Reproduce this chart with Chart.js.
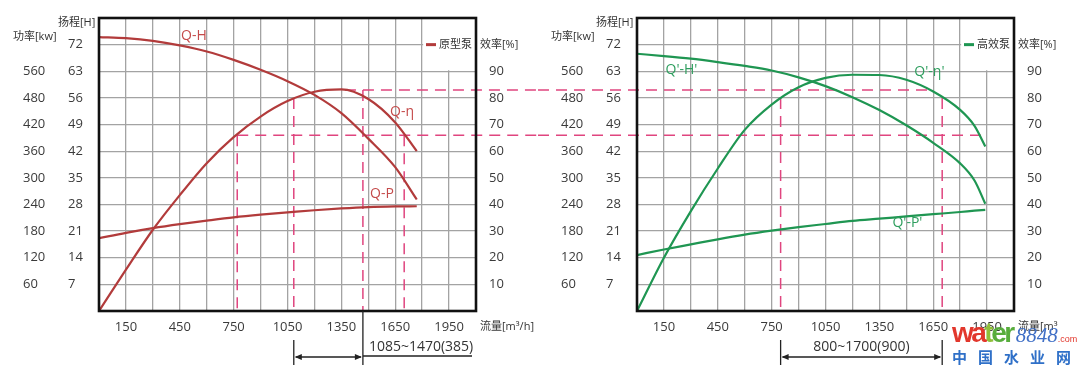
<!DOCTYPE html>
<html lang="zh">
<head>
<meta charset="utf-8">
<title>原型泵 / 高效泵 性能曲线</title>
<script src="https://cdn.jsdelivr.net/npm/chart.js@4.4.1/dist/chart.umd.min.js"></script>
<style>
  html, body { margin: 0; padding: 0; background: #fff; }
  body { width: 1080px; height: 373px; position: relative; overflow: hidden; }
  canvas { position: absolute; top: 0; }
  #protoChart { left: 0; }
  #hiChart { left: 538px; }
  #mark { position: absolute; left: 952px; top: 319px; z-index: 5; white-space: nowrap; }
  #mark .row1 { font: bold 28px/28px 'Liberation Sans', sans-serif; letter-spacing: -2.5px; }
  #mark .r { color: #e2372c; }
  #mark .o { color: #8fbf3a; }
  #mark .g { color: #58ad3d; }
  #mark .num { font: italic 21px 'Liberation Serif', serif; color: #3f6fc6; letter-spacing: 0; margin-left: 3px; }
  #mark .com { font: 9px 'Liberation Sans', sans-serif; color: #e2372c; letter-spacing: 0; }
  #mark .row2 { margin-top: 1px; font: bold 15px/15px 'Noto Sans CJK SC', sans-serif; letter-spacing: 11px; color: #2f70c8; }
</style>
</head>
<body>
<canvas id="protoChart" width="540" height="373"></canvas>
<canvas id="hiChart" width="540" height="373"></canvas>
<div id="mark">
  <div class="row1"><span class="r">wa</span><span class="o">t</span><span class="g">er</span><span class="num">8848</span><span class="com">.com</span></div>
  <div class="row2">中国水业网</div>
</div>
<script>
// axis tick labels (one per grid step, bottom up)
const flowLabels = [150, 450, 750, 1050, 1350, 1650, 1950];
const headLabels = ['7', '14', '21', '28', '35', '42', '49', '56', '63', '72'];
const powerLabels = ['60', '120', '180', '240', '300', '360', '420', '480', '560'];
const effLabels = ['10', '20', '30', '40', '50', '60', '70', '80', '90'];

// 原型泵
const protoFlow = [0, 150, 300, 450, 600, 750, 900, 1050, 1200, 1350, 1500, 1650, 1770];
const protoHead = [72.0, 71.7, 71.0, 69.8, 68.2, 66.0, 63.4, 60.4, 56.8, 52.0, 45.3, 37.8, 29.3];
const protoEff = [0, 15.5, 30.5, 43.5, 55.5, 65.3, 73.0, 78.8, 82.3, 83.2, 79.6, 70.8, 60.0];
const protoPower = [164, 176, 186.5, 195.5, 203.5, 211, 217, 222, 227, 231, 234, 235.5, 236];
const protoRange = [1085, 1470];
const protoDropFlow = [770, 1085, 1470, 1700];
const protoDropEff = [66, 80, 83, 66];
const protoGuideStart = [1370, 770];

// 高效泵
const hiFlow = [0, 150, 300, 450, 600, 750, 900, 1050, 1200, 1350, 1500, 1650, 1800, 1880, 1940];
const hiHead = [67.6, 67.0, 66.3, 65.4, 64.4, 63.2, 61.4, 59.1, 56.2, 52.8, 48.8, 44.2, 38.8, 34.3, 28.2];
const hiEff = [0, 20, 37.5, 53.5, 68, 77.5, 84, 87.5, 88.7, 88.6, 86.8, 82.4, 75.5, 69.5, 61.8];
const hiPower = [126, 138.5, 150, 161.5, 172, 181, 189, 196, 203, 208, 213, 218, 223, 226, 228];
const hiRange = [800, 1700];
const hiDropFlow = [800, 1700];
const hiDropEff = [80, 80];
const hiGuideEnd = [1635, 1940];

// efficiency levels of the dashed lines running across both charts
const effGuides = [83, 66];

const FONT = "'Open Sans', 'Noto Sans CJK SC', sans-serif";
const TEXT = '#3a3a3a';
const GRID = '#a3a3a3';
const GUIDE = '#e0457f';

function arrowHead(ctx, x, y, dir) {
  ctx.beginPath();
  ctx.moveTo(x, y);
  ctx.lineTo(x - dir * 7, y - 3);
  ctx.lineTo(x - dir * 7, y + 3);
  ctx.closePath();
  ctx.fill();
}

function buildPump(id, p) {
  const line = (label, ys, axis) => ({
    label: label,
    data: p.flow.map((q, i) => ({ x: q, y: ys[i] })),
    yAxisID: axis,
    borderColor: p.color,
    borderWidth: 2.2,
    pointRadius: 0,
    cubicInterpolationMode: 'monotone',
    fill: false
  });

  const decor = {
    id: 'decor',
    beforeDatasetsDraw(chart) {
      const { ctx, chartArea: a, scales: { x, yE } } = chart;
      ctx.save();
      // blank cell behind the legend
      const bx = x.getPixelForValue(1800) + 1;
      ctx.fillStyle = '#fff';
      ctx.fillRect(bx, a.top, a.right - bx, yE.getPixelForValue(90) - 1 - a.top);
      const ly = yE.getPixelForValue(100);
      ctx.strokeStyle = p.color;
      ctx.lineWidth = 3;
      ctx.beginPath();
      ctx.moveTo(a.right - 50, ly);
      ctx.lineTo(a.right - 40, ly);
      ctx.stroke();
      ctx.fillStyle = '#333';
      ctx.font = '11px ' + FONT;
      ctx.textBaseline = 'middle';
      ctx.fillText(p.name, a.right - 37, ly);

      // dashed guide lines
      ctx.strokeStyle = GUIDE;
      ctx.lineWidth = 1.5;
      ctx.setLineDash([11, 7]);
      effGuides.forEach((e, i) => {
        const y = yE.getPixelForValue(e);
        ctx.beginPath();
        if (p.guideStart) {
          ctx.moveTo(x.getPixelForValue(p.guideStart[i]), y);
          ctx.lineTo(chart.width, y);
        } else {
          ctx.moveTo(0, y);
          ctx.lineTo(x.getPixelForValue(p.guideEnd[i]), y);
        }
        ctx.stroke();
      });
      p.dropFlow.forEach((q, i) => {
        const px = x.getPixelForValue(q);
        ctx.beginPath();
        ctx.moveTo(px, yE.getPixelForValue(p.dropEff[i]));
        ctx.lineTo(px, a.bottom);
        ctx.stroke();
      });
      ctx.restore();
    },
    afterDatasetsDraw(chart) {
      const { ctx, chartArea: a, scales: { x, yH } } = chart;
      ctx.save();
      ctx.strokeStyle = '#111';
      ctx.lineWidth = 2.6;
      ctx.strokeRect(a.left, a.top, a.right - a.left, a.bottom - a.top);
      ctx.fillStyle = p.noteColor;
      ctx.font = '14px ' + FONT;
      ctx.textBaseline = 'middle';
      p.notes.forEach(n => ctx.fillText(n[0], x.getPixelForValue(n[1]), yH.getPixelForValue(n[2])));
      ctx.restore();
    },
    afterDraw(chart) {
      const { ctx, chartArea: a, scales: { x, yE } } = chart;
      ctx.save();
      ctx.fillStyle = '#333';
      ctx.font = '11px ' + FONT;
      ctx.textBaseline = 'middle';
      ctx.fillText('功率[kw]', a.left - 86, a.top + 19);
      ctx.fillText('扬程[H]', a.left - 41, a.top + 5);
      ctx.fillText('效率[%]', a.right + 4, yE.getPixelForValue(100));
      ctx.fillText(p.flowTitle, a.right + 4, a.bottom + 16);

      // operating span under the axis
      const x0 = x.getPixelForValue(p.range[0]);
      const x1 = x.getPixelForValue(p.range[1]);
      ctx.strokeStyle = '#222';
      ctx.fillStyle = '#222';
      ctx.lineWidth = 1.3;
      ctx.beginPath();
      ctx.moveTo(x0, 340); ctx.lineTo(x0, 365);
      ctx.moveTo(x1, p.aside ? a.bottom : 340); ctx.lineTo(x1, 365);
      ctx.moveTo(x0 + 2, 357); ctx.lineTo(x1 - 2, 357);
      if (p.aside) { ctx.moveTo(x1, 356); ctx.lineTo(a.right - 4, 356); }
      ctx.stroke();
      arrowHead(ctx, x0 + 1, 357, -1);
      arrowHead(ctx, x1 - 1, 357, 1);
      const span = p.range[0] + '~' + p.range[1] + '(' + (p.range[1] - p.range[0]) + ')';
      ctx.fillStyle = '#333';
      ctx.font = '14px ' + FONT;
      if (p.aside) {
        ctx.textAlign = 'left';
        ctx.fillText(span, x1 + 6, 347);
      } else {
        ctx.textAlign = 'center';
        ctx.fillText(span, (x0 + x1) / 2, 347);
      }
      ctx.restore();
    }
  };

  const tickFont = { family: FONT, size: 13 };
  return new Chart(document.getElementById(id), {
    type: 'line',
    data: {
      datasets: [
        line('Q-H', p.head, 'yH'),
        line('Q-η', p.eff, 'yE'),
        line('Q-P', p.power, 'yP')
      ]
    },
    options: {
      responsive: false,
      maintainAspectRatio: false,
      devicePixelRatio: 1,
      animation: false,
      events: [],
      layout: { padding: { left: 23, top: 18, right: 0, bottom: 0 } },
      plugins: { legend: { display: false }, tooltip: { enabled: false } },
      scales: {
        x: {
          type: 'linear', min: 0, max: 2100,
          border: { display: false },
          grid: { color: GRID, lineWidth: 1.3, drawTicks: false },
          ticks: {
            stepSize: 150, autoSkip: false, maxRotation: 0, padding: 8, color: TEXT, font: tickFont,
            callback: v => flowLabels.includes(v) ? String(v) : ''
          },
          afterFit: s => { s.height = 62; s.paddingLeft = 0; s.paddingRight = 0; }
        },
        yH: {
          position: 'left', weight: 1, min: 0, max: 77,
          border: { display: false },
          grid: { color: GRID, lineWidth: 1.3, drawTicks: false },
          ticks: {
            stepSize: 7, autoSkip: false, crossAlign: 'far', color: TEXT, font: tickFont,
            callback: (v, i) => headLabels[i - 1] || ''
          },
          afterFit: s => { s.width = 31; s.paddingTop = 0; s.paddingBottom = 0; }
        },
        yP: {
          position: 'left', weight: 2, min: 0, max: 660,
          border: { display: false },
          grid: { display: false, drawTicks: false },
          ticks: {
            stepSize: 60, autoSkip: false, crossAlign: 'far', color: TEXT, font: tickFont,
            callback: (v, i) => powerLabels[i - 1] || ''
          },
          afterFit: s => { s.width = 45; s.paddingTop = 0; s.paddingBottom = 0; }
        },
        yE: {
          position: 'right', min: 0, max: 110,
          border: { display: false },
          grid: { display: false, drawTicks: false },
          ticks: {
            stepSize: 10, autoSkip: false, padding: 13, color: TEXT, font: tickFont,
            callback: (v, i) => effLabels[i - 1] || ''
          },
          afterFit: s => { s.width = 64; s.paddingTop = 0; s.paddingBottom = 0; }
        }
      }
    },
    plugins: [decor]
  });
}

buildPump('protoChart', {
  name: '原型泵', color: '#b23b3b', noteColor: '#c44a4a',
  flow: protoFlow, head: protoHead, eff: protoEff, power: protoPower,
  range: protoRange, dropFlow: protoDropFlow, dropEff: protoDropEff,
  guideStart: protoGuideStart, aside: true, flowTitle: '流量[m³/h]',
  notes: [['Q-H', 457, 72.2], ['Q-η', 1621, 52.4], ['Q-P', 1510, 30.8]]
});

buildPump('hiChart', {
  name: '高效泵', color: '#1f9652', noteColor: '#2e9e5e',
  flow: hiFlow, head: hiHead, eff: hiEff, power: hiPower,
  range: hiRange, dropFlow: hiDropFlow, dropEff: hiDropEff,
  guideEnd: hiGuideEnd, aside: false, flowTitle: '流量[m³',
  notes: [["Q'-H'", 159, 63.4], ["Q'-η'", 1545, 62.7], ["Q'-P'", 1423, 23.1]]
});
</script>
</body>
</html>
